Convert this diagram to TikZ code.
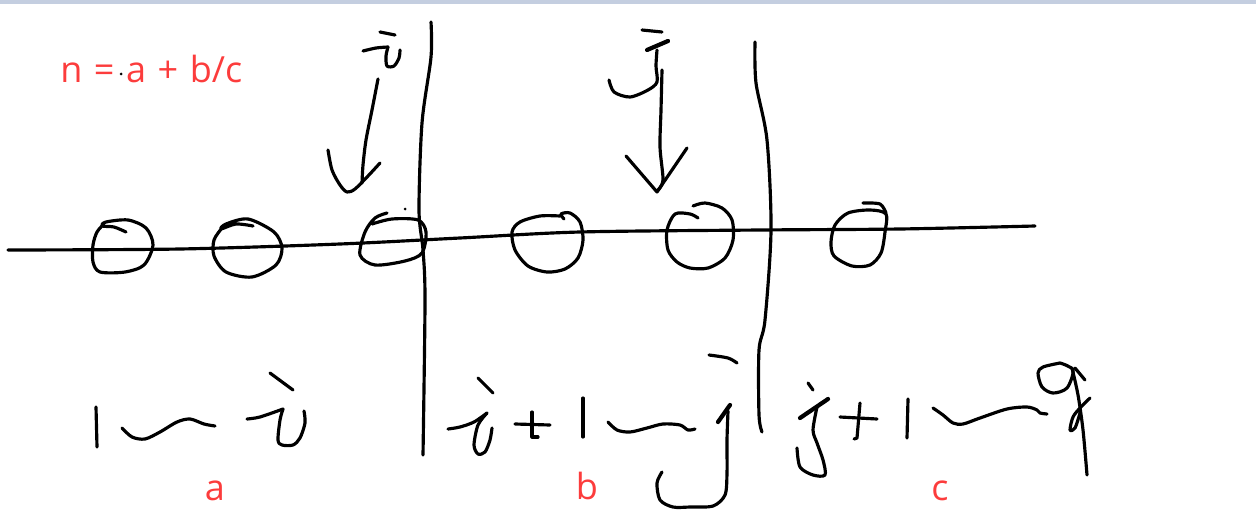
\documentclass[tikz,border=0pt]{standalone}
\usepackage{fontspec}
\setmainfont{Open Sans}
\definecolor{redtxt}{RGB}{252,60,60}
\definecolor{topbar}{RGB}{196,206,224}
\begin{document}
\begin{tikzpicture}[x=0.02cm,y=-0.02cm,
  pen/.style={line width=1.8pt, line cap=round, line join=round},
  lbl/.style={text=redtxt, font=\fontsize{20.5}{24}\selectfont, inner sep=0pt}]
\useasboundingbox (0,0) rectangle (1256,517);
\fill[topbar] (0,0) rectangle (1256,4);

% formula and labels
\node[lbl, anchor=base west] (formula) at (60,83) {n\hspace{0.32em}=\hspace{0.32em}a\hspace{0.32em}+\hspace{0.32em}b/c};
\node[lbl, anchor=base] (la) at (215,500) {a};
\node[lbl, anchor=base] (lb) at (587,499) {b};
\node[lbl, anchor=base] (lc) at (940,500) {c};
\fill (121,74) circle[radius=0.03cm];
\fill (405,209) circle[radius=0.03cm];

% main line
\draw[pen] plot[smooth] coordinates {(8,250) (180,249) (340,244) (460,238) (580,232) (760,230) (900,229) (1035,226)};

% dividers
\draw[pen] plot[smooth] coordinates {(431,22) (431,57) (422,123) (419,210) (423,250) (425,300) (423,455)};
\draw[pen] plot[smooth] coordinates {(755,42) (756,83) (767,140) (771,230) (765,320) (759,350) (759,415) (762,432)};

% circles
\draw[pen] plot[smooth] coordinates {(126,232) (114,227) (102,226) (106,222) (128,220) (146,228) (153,245) (144,265) (125,272) (100,272) (93,262) (93,245) (97,232) (104,224)};
\draw[pen] plot[smooth] coordinates {(253,226) (236,224) (221,229) (226,224) (248,219) (274,232) (282,248) (276,265) (252,277) (226,272) (214,256) (214,240) (222,228)};
\draw[pen] plot[smooth] coordinates {(387,213) (375,218) (365,232) (360,255) (375,265) (405,261) (422,253) (426,232) (418,220) (392,219) (372,224)};
\draw[pen] plot[smooth] coordinates {(564,219) (561,214) (570,213) (580,222) (583,240) (578,258) (565,269) (547,272) (528,266) (515,250) (512,232) (520,222) (540,216) (560,216)};
\draw[pen] plot[smooth] coordinates {(698,218) (690,214) (675,214) (667,230) (668,250) (677,262) (690,268) (708,268) (725,258) (733,240) (732,220) (722,208) (705,203) (693,206)};
\draw[pen] plot[smooth] coordinates {(863,203) (880,204) (886,213)};
\draw[pen] plot[smooth cycle] coordinates {(886,214) (870,210) (848,213) (835,225) (831,242) (834,256) (852,266) (870,265) (881,253) (885,232)};

% arrow i
\draw[pen] (380,32) -- (395,35);
\draw[pen] plot[smooth] coordinates {(363,51) (376,48) (388,47)};
\draw[pen] plot[smooth] coordinates {(388,47) (386,56) (387,66) (394,66) (399,58) (400,50)};
\draw[pen] plot[smooth] coordinates {(378,79) (372,110) (366,140) (363,165) (362,183)};
\draw[pen] plot[smooth] coordinates {(328,150) (332,170) (340,185) (347,192) (355,189) (368,176) (380,163)};

% arrow j
\draw[pen] (642,30) -- (662,32);
\draw[pen, line width=2.4pt] (647,50) -- (668,41);
\draw[pen] plot[smooth] coordinates {(657,50) (656,66) (657,82) (648,90) (630,97) (614,92) (609,80)};
\draw[pen] plot[smooth] coordinates {(662,70) (661,110) (660,147) (663,180) (658,190)};
\draw[pen] (626,156) -- (657,192) -- (687,148);

% 1 ~ i
\draw[pen] (96,407) -- (97,447);
\draw[pen] plot[smooth] coordinates {(122,428) (132,437) (145,439) (160,432) (177,422) (190,419) (204,424) (215,426)};
\draw[pen] (270,373) -- (293,390);
\draw[pen] plot[smooth] coordinates {(247,419) (260,417) (283,409)};
\draw[pen] plot[smooth] coordinates {(283,409) (280,420) (278,440) (282,445) (293,445) (300,438) (305,423) (304,411)};

% i+1 ~ j
\draw[pen] (478,378) -- (493,393);
\draw[pen] plot[smooth] coordinates {(448,429) (460,427) (474,422) (487,413)};
\draw[pen] plot[smooth] coordinates {(487,413) (478,425) (474,445) (478,454) (485,452) (490,440) (492,428)};
\draw[pen] (515,424) -- (550,425);
\draw[pen] (532,412) -- (532,437) -- (538,437);
\draw[pen] (583,398) -- (583,437);
\draw[pen] plot[smooth] coordinates {(608,422) (617,430) (630,432) (647,428) (663,424) (680,425) (688,430) (695,429)};
\draw[pen] plot[smooth] coordinates {(709,355) (728,358) (737,363)};
\draw[pen, line width=2.4pt] (718,422) -- (730,405);
\draw[pen] plot[smooth] coordinates {(728,411) (727,440) (727,473) (725,495) (713,506) (690,507) (673,507) (660,500) (657,483) (662,472)};

% j+1 ~ n
\draw[pen] (808,383) -- (813,390);
\draw[pen, line width=2.4pt] (800,418) -- (828,399);
\draw[pen] plot[smooth] coordinates {(817,407) (813,430) (817,443) (823,460) (825,475) (813,475) (800,467) (797,448)};
\draw[pen] (840,417) -- (877,419);
\draw[pen] (860,403) -- (857,438) -- (854,439);
\draw[pen] (908,399) -- (907,438);
\draw[pen] plot[smooth] coordinates {(933,408) (943,415) (953,423) (963,424) (980,418) (1007,409) (1027,407) (1037,410) (1040,413) (1047,414)};
\draw[pen] plot[smooth] coordinates {(1060,363) (1073,370) (1067,388) (1053,393) (1042,387) (1038,373) (1043,367) (1060,363)};
\draw[pen] plot[smooth] coordinates {(1072,368) (1078,395) (1083,430) (1087,475)};
\draw[pen] (1075,368) -- (1085,380);
\draw[pen] plot[smooth] coordinates {(1090,398) (1080,408) (1073,417) (1070,430) (1075,428) (1080,413)};
\end{tikzpicture}
\end{document}
